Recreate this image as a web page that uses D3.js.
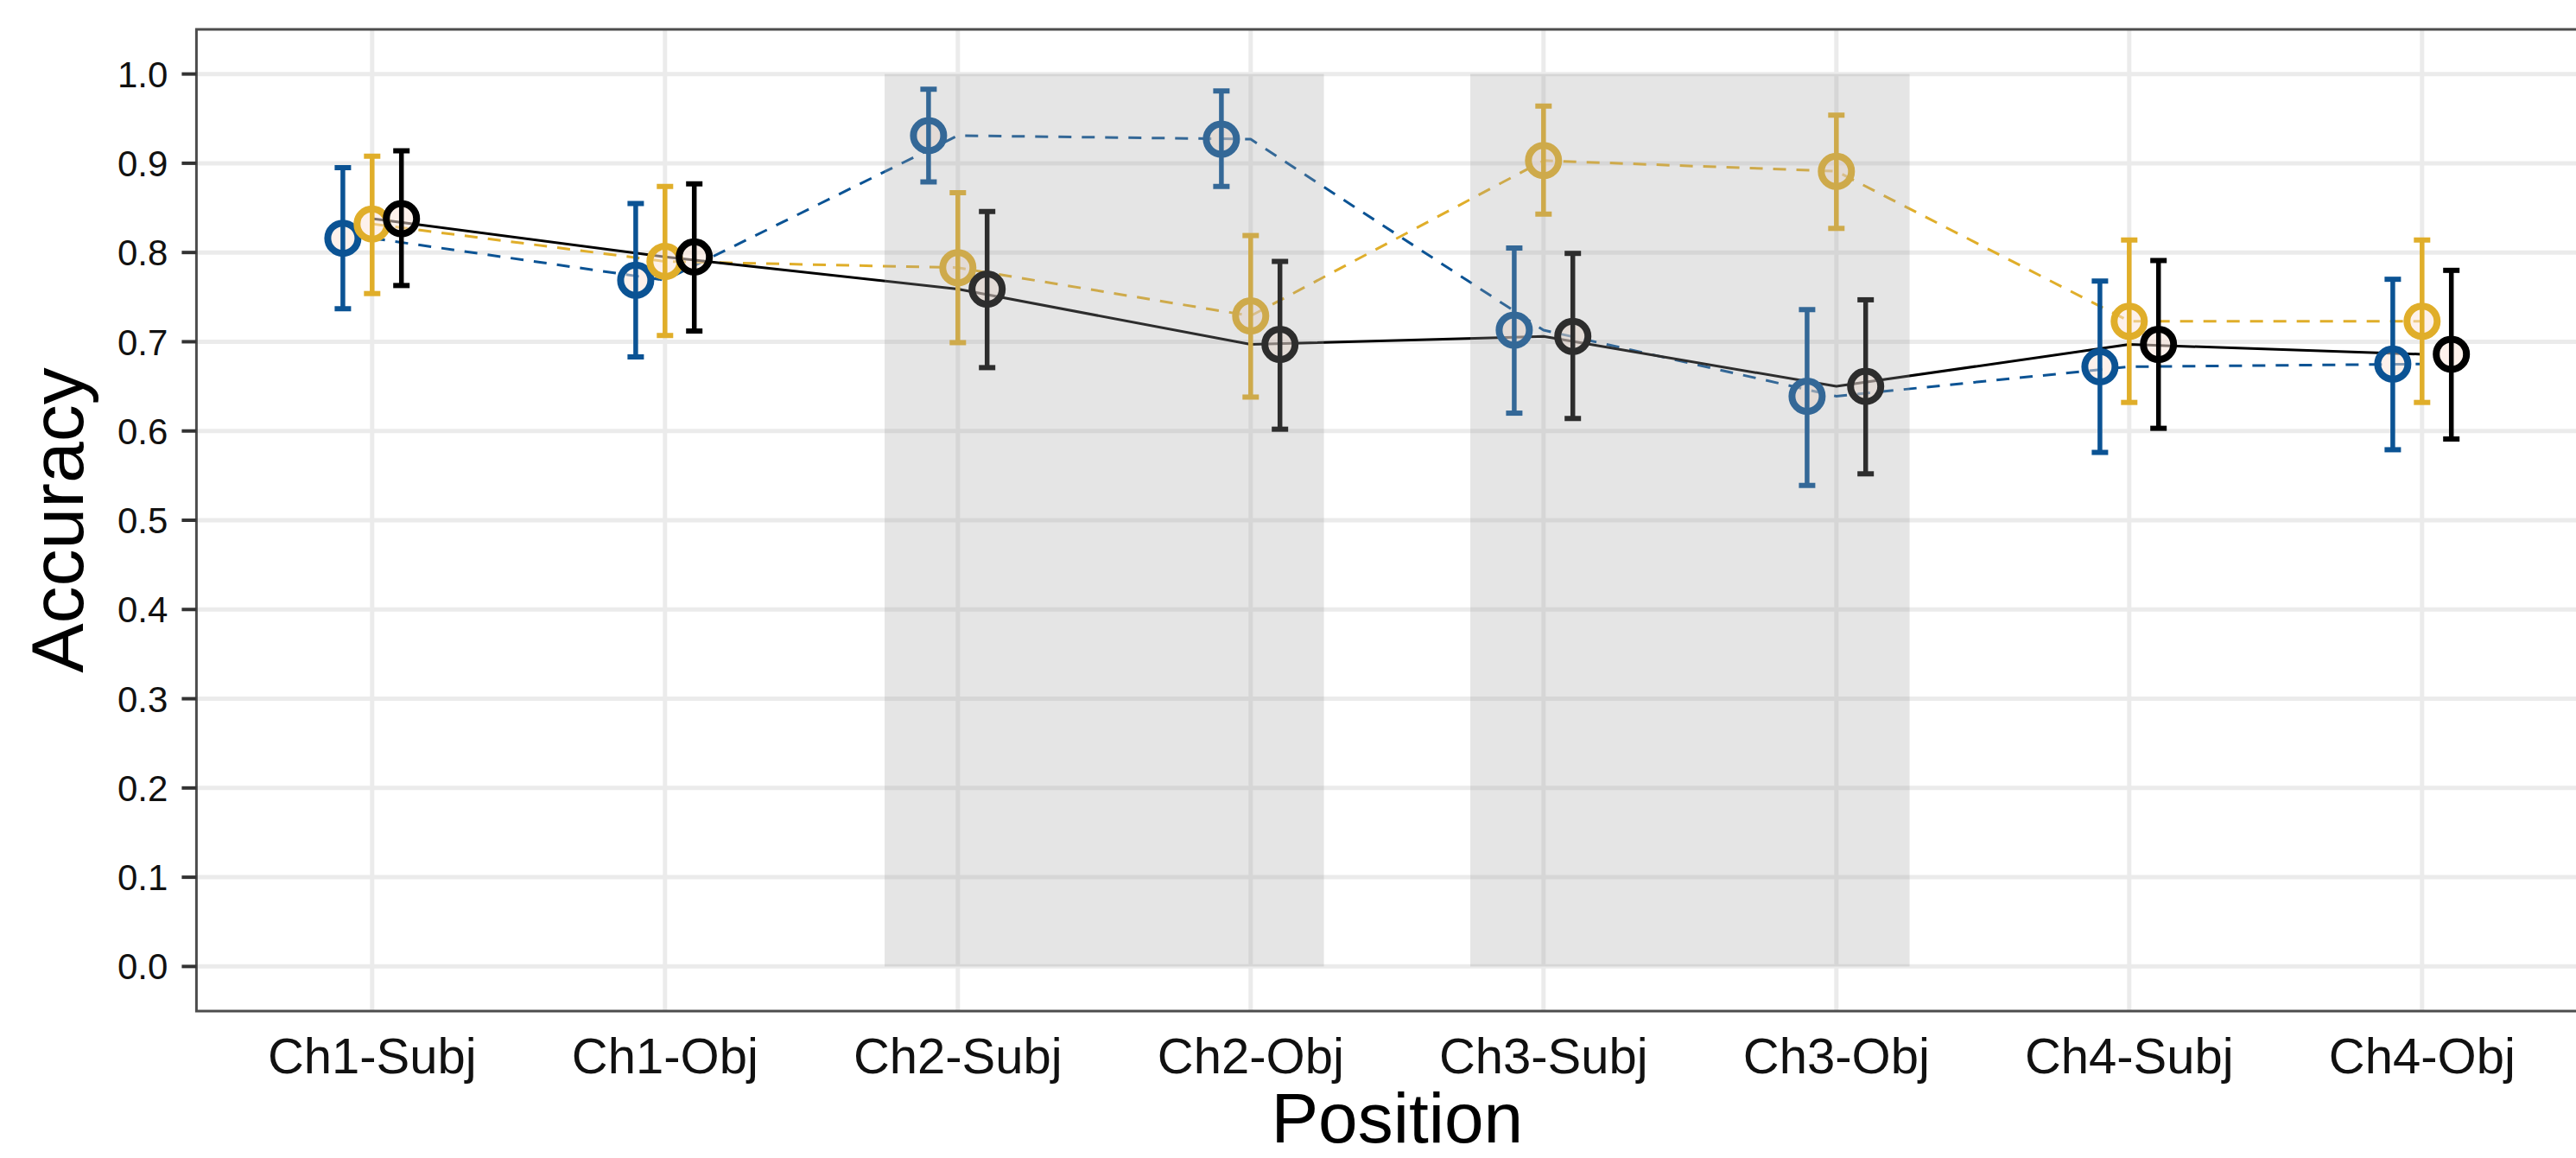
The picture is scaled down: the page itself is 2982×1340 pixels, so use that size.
<!DOCTYPE html>
<html>
<head>
<meta charset="utf-8">
<script src="https://cdn.jsdelivr.net/npm/d3@7"></script>
<style>
  html, body { margin: 0; padding: 0; background: #ffffff; }
  svg { display: block; }
  text { font-family: "Liberation Sans", Arial, Helvetica, sans-serif; }
</style>
</head>
<body>
<script>
// ---------------- data ----------------
const categories = ["Ch1-Subj", "Ch1-Obj", "Ch2-Subj", "Ch2-Obj", "Ch3-Subj", "Ch3-Obj", "Ch4-Subj", "Ch4-Obj"];
const yTicks = [0.0, 0.1, 0.2, 0.3, 0.4, 0.5, 0.6, 0.7, 0.8, 0.9, 1.0];

const blueMean   = [0.816, 0.769, 0.931, 0.927, 0.713, 0.639, 0.672, 0.675];
const blueLo     = [0.737, 0.683, 0.879, 0.874, 0.620, 0.539, 0.576, 0.579];
const blueHi     = [0.895, 0.855, 0.983, 0.981, 0.805, 0.736, 0.768, 0.770];

const yellowMean = [0.832, 0.790, 0.783, 0.729, 0.903, 0.891, 0.723, 0.723];
const yellowLo   = [0.754, 0.707, 0.699, 0.638, 0.843, 0.827, 0.632, 0.632];
const yellowHi   = [0.908, 0.874, 0.867, 0.819, 0.964, 0.954, 0.814, 0.814];

const blackMean  = [0.838, 0.795, 0.759, 0.697, 0.706, 0.650, 0.697, 0.686];
const blackLo    = [0.763, 0.712, 0.671, 0.602, 0.614, 0.552, 0.603, 0.591];
const blackHi    = [0.914, 0.877, 0.846, 0.790, 0.799, 0.747, 0.791, 0.780];

// shaded regions, in category units (1-based), spanning accuracy 0..1
const shadeStart = [2.75, 4.75];
const shadeEnd   = [4.25, 6.25];
const shadeYMin = 0, shadeYMax = 1;

// ---------------- layout ----------------
const W = 2982, H = 1340;
const panel = { left: 227.4, right: 3007.2, top: 34, bottom: 1170 };

const svg = d3.select("body").append("svg").attr("width", W).attr("height", H);

const x = d3.scaleLinear().domain([0.4, categories.length + 0.6]).range([panel.left, panel.right]);
const y = d3.scaleLinear().domain([-0.05, 1.05]).range([panel.bottom, panel.top]);

const series = [
  { name: "blue",   color: "#0b5394", dash: "15,12", mean: blueMean,   lo: blueLo,   hi: blueHi,   offset: -0.1 },
  { name: "yellow", color: "#e0ae2a", dash: "15,12", mean: yellowMean, lo: yellowLo, hi: yellowHi, offset: 0 },
  { name: "black",  color: "#000000", dash: null,    mean: blackMean,  lo: blackLo,  hi: blackHi,  offset: 0.1 }
];

const clipId = "panelClip";
svg.append("defs").append("clipPath").attr("id", clipId)
  .append("rect").attr("x", panel.left).attr("y", panel.top)
  .attr("width", panel.right - panel.left).attr("height", panel.bottom - panel.top);

const g = svg.append("g").attr("clip-path", `url(#${clipId})`);

// panel background
g.append("rect").attr("x", panel.left).attr("y", panel.top)
  .attr("width", panel.right - panel.left).attr("height", panel.bottom - panel.top)
  .attr("fill", "#ffffff");

// gridlines
g.selectAll("line.hgrid").data(yTicks).enter().append("line")
  .attr("x1", panel.left).attr("x2", panel.right)
  .attr("y1", d => y(d)).attr("y2", d => y(d))
  .attr("stroke", "#ebebeb").attr("stroke-width", 5);
g.selectAll("line.vgrid").data(categories).enter().append("line")
  .attr("x1", (d, i) => x(i + 1)).attr("x2", (d, i) => x(i + 1))
  .attr("y1", panel.top).attr("y2", panel.bottom)
  .attr("stroke", "#ebebeb").attr("stroke-width", 5);

// connecting lines (undodged)
series.forEach(s => {
  const line = d3.line().x((d, i) => x(i + 1)).y(d => y(d));
  g.append("path").datum(s.mean)
    .attr("d", line)
    .attr("fill", "none")
    .attr("stroke", s.color)
    .attr("stroke-width", 3)
    .attr("stroke-dasharray", s.dash)
    .attr("stroke-linejoin", "round");
});

// points and error bars (dodged)
const capHalf = 9.5;
series.forEach(s => {
  const grp = g.append("g");
  s.mean.forEach((m, i) => {
    const cx = x(i + 1 + s.offset);
    grp.append("circle")
      .attr("cx", cx).attr("cy", y(m)).attr("r", 17.5)
      .attr("fill", "#fbe4d8").attr("fill-opacity", 0.5)
      .attr("stroke", s.color).attr("stroke-width", 8);
    grp.append("line")
      .attr("x1", cx).attr("x2", cx).attr("y1", y(s.lo[i])).attr("y2", y(s.hi[i]))
      .attr("stroke", s.color).attr("stroke-width", 5.5);
    [s.lo[i], s.hi[i]].forEach(v => {
      grp.append("line")
        .attr("x1", cx - capHalf).attr("x2", cx + capHalf)
        .attr("y1", y(v)).attr("y2", y(v))
        .attr("stroke", s.color).attr("stroke-width", 6);
    });
  });
});

// shaded overlays (drawn on top like an annotate rect)
g.selectAll("rect.shade").data(shadeStart).enter().append("rect")
  .attr("x", (d, i) => x(d))
  .attr("width", (d, i) => x(shadeEnd[i]) - x(d))
  .attr("y", y(shadeYMax))
  .attr("height", y(shadeYMin) - y(shadeYMax))
  .attr("fill", "#a0a0a0").attr("fill-opacity", 0.28);

// panel border
svg.append("rect").attr("x", panel.left).attr("y", panel.top)
  .attr("width", panel.right - panel.left).attr("height", panel.bottom - panel.top)
  .attr("fill", "none").attr("stroke", "#4d4d4d").attr("stroke-width", 3);

// y axis ticks + labels
const yAxis = svg.append("g");
yAxis.selectAll("line").data(yTicks).enter().append("line")
  .attr("x1", panel.left - 17).attr("x2", panel.left)
  .attr("y1", d => y(d)).attr("y2", d => y(d))
  .attr("stroke", "#333333").attr("stroke-width", 4);
yAxis.selectAll("text").data(yTicks).enter().append("text")
  .attr("x", panel.left - 33)
  .attr("y", d => y(d))
  .attr("dy", "0.36em")
  .attr("text-anchor", "end")
  .attr("font-size", 42)
  .attr("fill", "#111111")
  .text(d => d3.format(".1f")(d));

// x axis labels
svg.append("g").selectAll("text").data(categories).enter().append("text")
  .attr("x", (d, i) => x(i + 1))
  .attr("y", 1242)
  .attr("text-anchor", "middle")
  .attr("font-size", 58)
  .attr("fill", "#111111")
  .text(d => d);

// axis titles
svg.append("text")
  .attr("x", (panel.left + panel.right) / 2)
  .attr("y", 1322)
  .attr("text-anchor", "middle")
  .attr("font-size", 82)
  .attr("fill", "#000000")
  .text("Position");

svg.append("text")
  .attr("transform", `translate(96, ${(panel.top + panel.bottom) / 2}) rotate(-90)`)
  .attr("text-anchor", "middle")
  .attr("font-size", 86)
  .attr("fill", "#000000")
  .text("Accuracy");
</script>
</body>
</html>
